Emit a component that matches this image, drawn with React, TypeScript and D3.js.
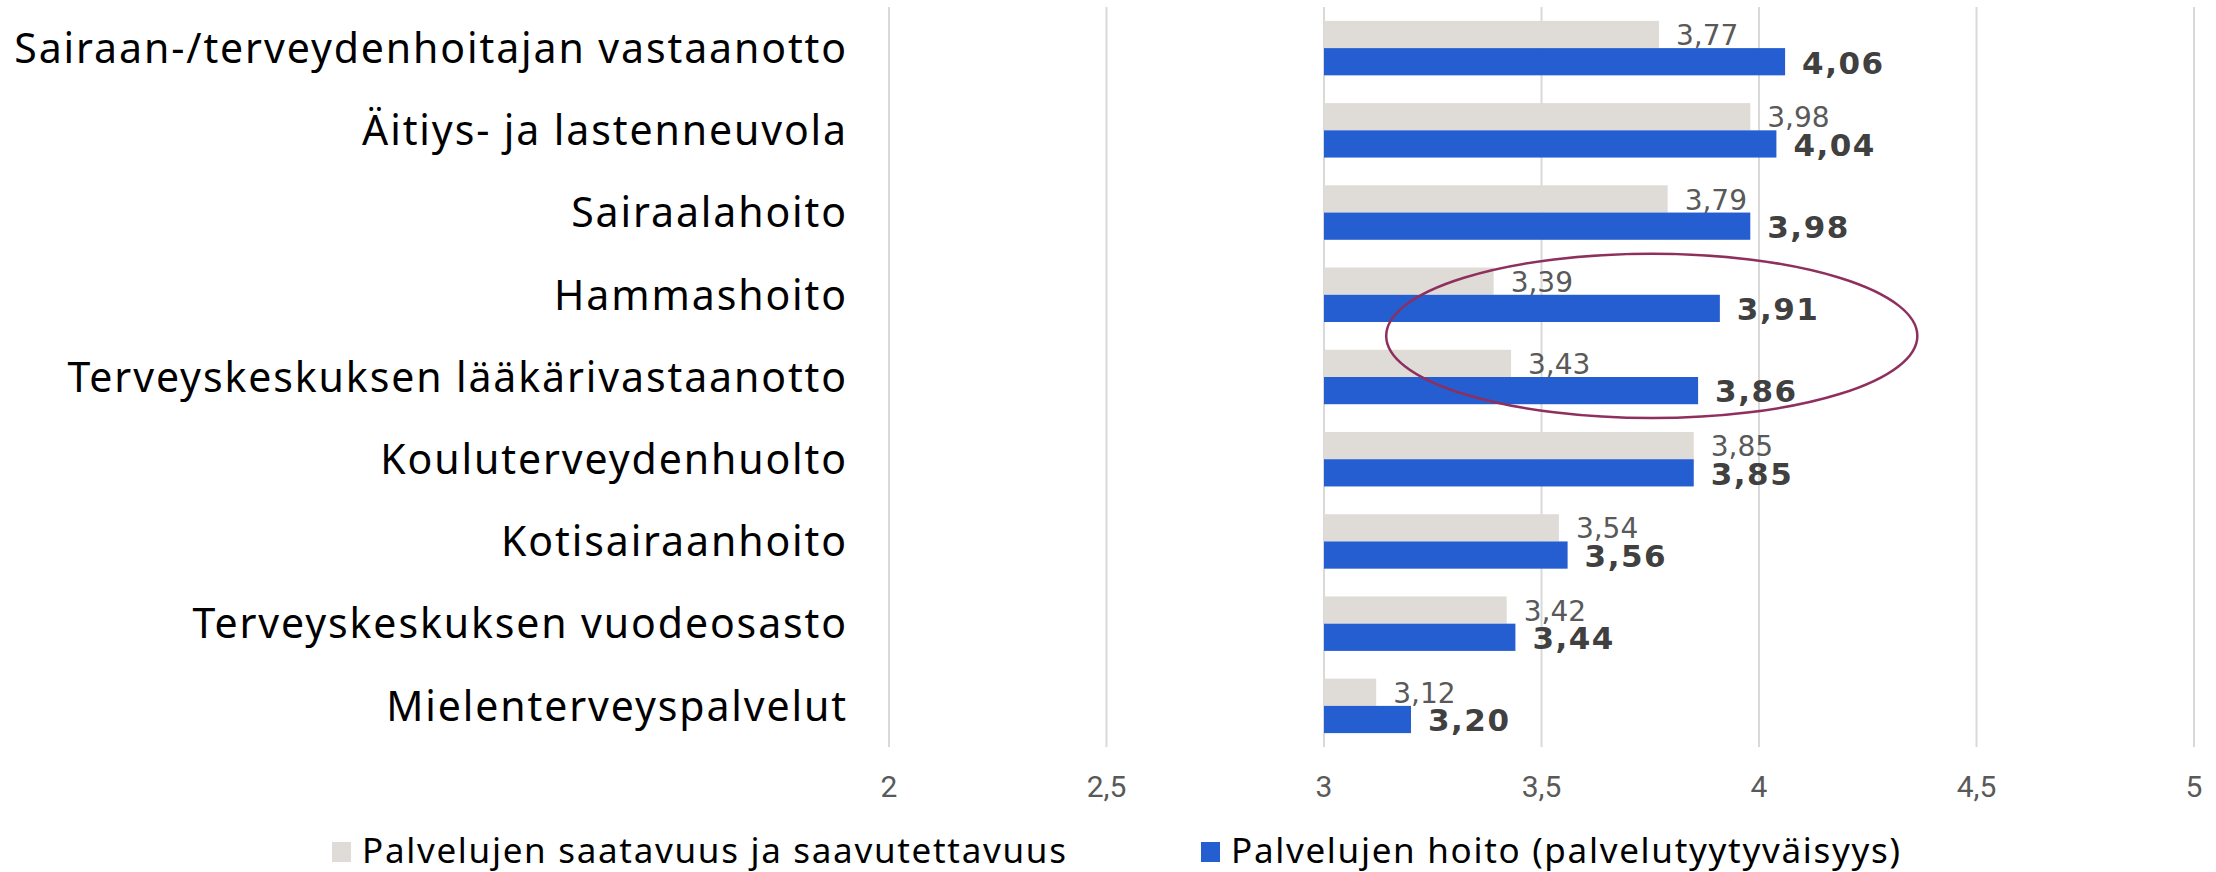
import React from 'react';
import * as d3 from 'd3';

// Categories top to bottom
const categories = [
  'Sairaan-/terveydenhoitajan vastaanotto',
  'Äitiys- ja lastenneuvola',
  'Sairaalahoito',
  'Hammashoito',
  'Terveyskeskuksen lääkärivastaanotto',
  'Kouluterveydenhuolto',
  'Kotisairaanhoito',
  'Terveyskeskuksen vuodeosasto',
  'Mielenterveyspalvelut',
];

// Series values
const saatavuus = [3.77, 3.98, 3.79, 3.39, 3.43, 3.85, 3.54, 3.42, 3.12];
const hoito = [4.06, 4.04, 3.98, 3.91, 3.86, 3.85, 3.56, 3.44, 3.2];

const seriesNames = [
  'Palvelujen saatavuus ja saavutettavuus',
  'Palvelujen hoito (palvelutyytyväisyys)',
];

const tickValues = [2, 2.5, 3, 3.5, 4, 4.5, 5];

const width = 2216;
const height = 872;
const GREY = '#DFDBD7';
const BLUE = '#255ED1';

const fmt = (v: number, digits: string) => d3.format(digits)(v).replace('.', ',');

export default function App() {
  // scales
  const x = d3.scaleLinear().domain([2, 5]).range([889, 2194]);
  const y = d3.scaleBand().domain(categories).range([7, 747]).padding(0);
  const sub = d3
    .scaleBand()
    .domain(['a', 'b'])
    .range([0, y.bandwidth()])
    .paddingInner(0)
    .paddingOuter(0.51);

  const base = x(3);
  const labelFont = '"Noto Sans", sans-serif';
  const valueFont = '"DejaVu Sans", sans-serif';
  const tickFont = 'Roboto, sans-serif';

  // highlight ellipse around Hammashoito + lääkärivastaanotto
  const eLeft = x(3.143);
  const eRight = x(4.364);
  const eTop = y(categories[3])!;
  const eBottom = y(categories[4])! + y.bandwidth();

  return (
    <svg
      width={width}
      height={height}
      style={{ position: 'absolute', left: 0, top: 0, background: '#fff' }}
    >
      {/* gridlines */}
      {tickValues.map((t) => (
        <line
          key={t}
          x1={x(t)}
          x2={x(t)}
          y1={7}
          y2={747}
          stroke="#D9D9D9"
          strokeWidth={2}
        />
      ))}

      {/* bars and labels */}
      {categories.map((c, i) => {
        const y0 = y(c)!;
        const ya = y0 + sub('a')!;
        const yb = y0 + sub('b')!;
        const bh = sub.bandwidth();
        return (
          <g key={c}>
            <rect x={base} y={ya} width={x(saatavuus[i]) - base} height={bh} fill={GREY} />
            <rect x={base} y={yb} width={x(hoito[i]) - base} height={bh} fill={BLUE} />
            <text
              x={x(saatavuus[i]) + 17}
              y={ya + bh / 2}
              dy="0.38em"
              fontFamily={valueFont}
              fontSize={28}
              fill="#595959"
            >
              {fmt(saatavuus[i], '.2f')}
            </text>
            <text
              x={x(hoito[i]) + 17}
              y={yb + bh / 2}
              dy="0.38em"
              fontFamily={valueFont}
              fontWeight="bold"
              fontSize={31}
              letterSpacing={1.5}
              fill="#404040"
            >
              {fmt(hoito[i], '.2f')}
            </text>
            <text
              x={848}
              y={y0 + y.bandwidth() / 2}
              dy="0.36em"
              textAnchor="end"
              fontFamily={labelFont}
              fontSize={41}
              letterSpacing={1.9}
              fill="#000"
            >
              {c}
            </text>
          </g>
        );
      })}

      {/* x axis tick labels */}
      {tickValues.map((t) => (
        <text
          key={t}
          x={x(t)}
          y={786}
          dy="0.36em"
          textAnchor="middle"
          fontFamily={tickFont}
          fontSize={30}
          fill="#595959"
        >
          {fmt(t, '~g')}
        </text>
      ))}

      <ellipse
        cx={(eLeft + eRight) / 2}
        cy={(eTop + eBottom) / 2}
        rx={(eRight - eLeft) / 2}
        ry={(eBottom - eTop) / 2}
        fill="none"
        stroke="#8E2F5E"
        strokeWidth={2.5}
      />

      {/* legend */}
      <g>
        <rect x={332} y={842} width={19} height={20} fill={GREY} />
        <text x={362} y={850} dy="0.36em" fontFamily={labelFont} fontSize={35} letterSpacing={1.7} fill="#000">
          {seriesNames[0]}
        </text>
        <rect x={1201} y={842} width={19} height={20} fill={BLUE} />
        <text x={1231} y={850} dy="0.36em" fontFamily={labelFont} fontSize={35} letterSpacing={1.7} fill="#000">
          {seriesNames[1]}
        </text>
      </g>
    </svg>
  );
}
